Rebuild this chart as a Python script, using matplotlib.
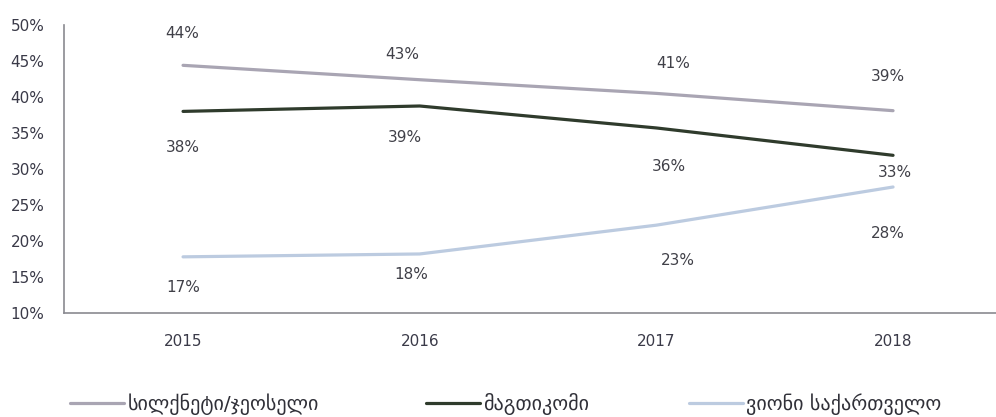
import matplotlib
matplotlib.use("Agg")
import matplotlib.pyplot as plt

plt.rcParams['font.family'] = ['DejaVu Sans']

years = ['2015', '2016', '2017', '2018']
series_names = ['სილქნეტი/ჯეოსელი', 'მაგთიკომი', 'ვიონი საქართველო']
silknet = [44.4, 42.4, 40.5, 38.1]
magticom = [38.0, 38.75, 35.7, 31.9]
veon = [17.8, 18.2, 22.2, 27.5]
silknet_labels = ['44%', '43%', '41%', '39%']
magticom_labels = ['38%', '39%', '36%', '33%']
veon_labels = ['17%', '18%', '23%', '28%']
yticks = [10, 15, 20, 25, 30, 35, 40, 45, 50]

values = [silknet, magticom, veon]
labels = [silknet_labels, magticom_labels, veon_labels]
colors = ['#a9a5b3', '#2f3b2c', '#bccbe0']
# label offsets in pixels relative to each point
offsets = [
    [(-1, 32), (-17, 25), (17, 30), (-5, 34)],
    [(0, -36), (-15, -31), (12, -39), (2, -17)],
    [(0, -31), (-8, -21), (21, -35), (-5, -46)],
]

W, H = 996, 417
fig = plt.figure(figsize=(W / 100, H / 100), dpi=100)
ax = fig.add_axes([64 / W, 104 / H, (W - 64) / W, (392 - 104) / H])

x = list(range(len(years)))
handles = []
for vals, labs, col, offs, name in zip(values, labels, colors, offsets, series_names):
    ln, = ax.plot(x, vals, color=col, lw=2.3, solid_capstyle='round', label=name)
    handles.append(ln)
    for xi, v, lab, (dx, dy) in zip(x, vals, labs, offs):
        ax.annotate(lab, (xi, v), xytext=(dx, dy), textcoords='offset pixels',
                    ha='center', va='center', fontsize=11, color='#404048')

ax.set_xlim(-0.503, 3.435)
ax.set_ylim(10, 50)
ax.set_xticks(x)
ax.set_xticklabels(years)
ax.set_yticks(yticks)
ax.set_yticklabels([f'{t}%' for t in yticks])
ax.tick_params(axis='both', length=0, labelsize=11, labelcolor='#3a3a48')
ax.tick_params(axis='y', pad=14)
ax.tick_params(axis='x', pad=15)
for s in ['top', 'right']:
    ax.spines[s].set_visible(False)
for s in ['left', 'bottom']:
    ax.spines[s].set_color('#8a8a90')
    ax.spines[s].set_linewidth(1.2)

legend_x = [70 / W, 426 / W, 689 / W]
for h, lx in zip(handles, legend_x):
    fig.legend(handles=[h], loc='center left', bbox_to_anchor=(lx, 13 / H),
               frameon=False, fontsize=14.5, handlelength=2.7, handletextpad=0.15,
               borderaxespad=0, borderpad=0, labelcolor='#303038')

fig.savefig('out.png', dpi=100)
